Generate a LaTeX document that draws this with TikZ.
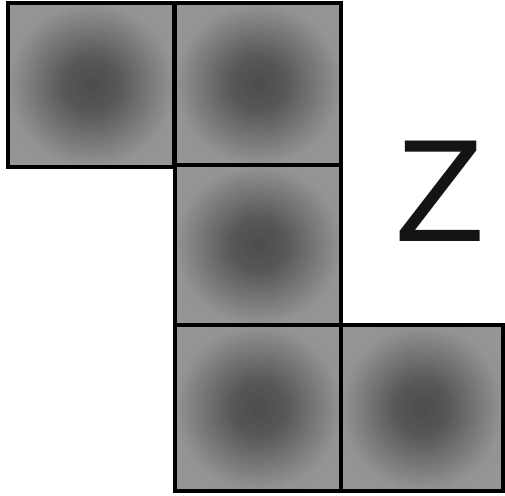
\documentclass[tikz,border=0pt]{standalone}
\usepackage{fontspec}
\newfontfamily\zfont{Liberation Sans}
\pgfdeclareradialshading{softsq}{\pgfpoint{0bp}{0bp}}{%
  color(0bp)=(black!70); color(8bp)=(black!66); color(18bp)=(black!52);
  color(25bp)=(black!42); color(50bp)=(black!40)}
\begin{document}
\begin{tikzpicture}[x=1pt,y=-1pt,
  sq/.style={draw=black, line width=4pt, inner sep=0pt, outer sep=0pt, anchor=north west,
    shading=softsq},
  letter/.style={font=\zfont\fontsize{146}{146}\selectfont, text=black!92, inner sep=0pt}]
\useasboundingbox (0,0) rectangle (505,495);
\node[sq, minimum width=166pt, minimum height=164pt] (a) at (8,3) {};
\node[sq, minimum width=166pt, minimum height=162pt] (b) at (175,3) {};
\node[sq, minimum width=166pt, minimum height=160pt] (c) at (175,165) {};
\node[sq, minimum width=166pt, minimum height=166pt] (d) at (175,325) {};
\node[sq, minimum width=162pt, minimum height=166pt] (e) at (341,325) {};
\node[letter] (z) at (440,191) {Z};
\end{tikzpicture}
\end{document}
